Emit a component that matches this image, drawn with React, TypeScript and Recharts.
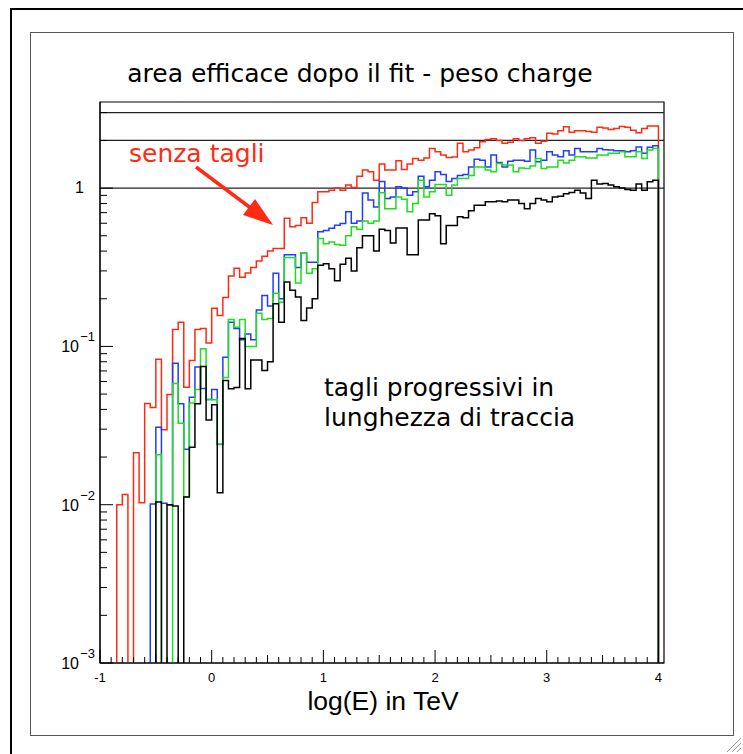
import React from "react";
import { LineChart, Line, XAxis, YAxis, ReferenceLine, ReferenceArea } from "recharts";

// istogramma: 100 bin da log(E) = -1 a 4
const BIN_LOW = -1;
const BIN_WIDTH = 0.05;
const N_BINS = 100;
const Y_MIN = 0.001;
const Y_MAX = 3.5;
const FLOOR = 0.0007; // empty bins fall below the frame (clipped)

const senzaTagli = [
  0, 0, 0, 0.01, 0.0116, 0, 0.0213, 0.0103, 0.0436, 0.0411,
  0.083, 0.0298, 0.0497, 0.128, 0.142, 0.0552, 0.0815, 0.128, 0.13, 0.105,
  0.174, 0.157, 0.204, 0.279, 0.312, 0.273, 0.291, 0.315, 0.347, 0.371,
  0.401, 0.415, 0.416, 0.645, 0.57, 0.58, 0.65, 0.6, 0.81, 0.95,
  0.95, 0.97, 1.0, 0.97, 1.045, 1.01, 1.19, 1.3, 1.27, 1.12,
  1.42, 1.3, 1.3, 1.49, 1.31, 1.42, 1.54, 1.5, 1.55, 1.78,
  1.7, 1.62, 1.56, 1.57, 1.92, 1.7, 1.74, 1.8, 1.96, 2.03,
  2.05, 2.0, 1.92, 1.95, 2.05, 2.0, 2.05, 2.08, 1.92, 1.98,
  2.22, 2.2, 2.3, 2.44, 2.25, 2.3, 2.3, 2.28, 2.25, 2.42,
  2.4, 2.35, 2.38, 2.45, 2.42, 2.32, 2.24, 2.38, 2.47, 2.47,
];

const taglio1 = [
  0, 0, 0, 0, 0, 0, 0, 0, 0, 0.0101,
  0.0308, 0.0102, 0.01, 0.0784, 0.0435, 0.0224, 0.0477, 0.074, 0.0543, 0.0462,
  0.0535, 0.0241, 0.0853, 0.142, 0.13, 0.11, 0.12, 0.11, 0.17, 0.21,
  0.18, 0.29, 0.2, 0.38, 0.38, 0.315, 0.39, 0.34, 0.34, 0.53,
  0.54, 0.558, 0.583, 0.598, 0.71, 0.6, 0.62, 0.93, 0.84, 0.76,
  1.1, 0.86, 0.88, 1.02, 1.0, 0.9, 0.95, 1.19, 1.02, 1.12,
  1.27, 1.22, 1.1, 1.15, 1.2, 1.22, 1.36, 1.52, 1.5, 1.36,
  1.62, 1.45, 1.36, 1.48, 1.5, 1.5, 1.48, 1.74, 1.47, 1.5,
  1.7, 1.62, 1.58, 1.72, 1.62, 1.78, 1.7, 1.7, 1.7, 1.78,
  1.75, 1.74, 1.72, 1.72, 1.7, 1.72, 1.82, 1.66, 1.81, 1.85,
];

const taglio2 = [
  0, 0, 0, 0, 0, 0, 0, 0, 0, 0,
  0.0207, 0, 0, 0.0583, 0.0327, 0.0112, 0.0439, 0.0535, 0.0965, 0.0462,
  0.046, 0.024, 0.0637, 0.148, 0.132, 0.148, 0.1, 0.1, 0.162, 0.148,
  0.15, 0.217, 0.19, 0.364, 0.364, 0.252, 0.39, 0.29, 0.31, 0.48,
  0.446, 0.457, 0.44, 0.436, 0.5, 0.57, 0.55, 0.62, 0.6, 0.62,
  0.934, 0.74, 0.74, 0.88, 0.85, 0.71, 0.8, 1.12, 0.88, 0.95,
  1.055, 1.055, 0.9, 1.045, 1.15, 1.15, 1.2, 1.36, 1.36, 1.3,
  1.27, 1.43, 1.4, 1.4, 1.27, 1.34, 1.33, 1.38, 1.54, 1.33,
  1.36, 1.36, 1.5, 1.44, 1.5, 1.58, 1.58, 1.55, 1.55, 1.62,
  1.62, 1.66, 1.66, 1.7, 1.58, 1.58, 1.7, 1.54, 1.74, 1.78,
];

const taglio3 = [
  0, 0, 0, 0, 0, 0, 0, 0, 0, 0,
  0.0104, 0, 0.01, 0.0098, 0, 0.0112, 0.0231, 0.0435, 0.0747, 0.0343,
  0.0428, 0.0119, 0.0609, 0.054, 0.055, 0.112, 0.054, 0.082, 0.082, 0.0705,
  0.08, 0.186, 0.142, 0.255, 0.226, 0.205, 0.146, 0.175, 0.2, 0.326,
  0.333, 0.31, 0.26, 0.33, 0.36, 0.3, 0.42, 0.5, 0.5, 0.4,
  0.55, 0.54, 0.45, 0.56, 0.56, 0.38, 0.38, 0.63, 0.63, 0.69,
  0.67, 0.446, 0.58, 0.58, 0.66, 0.65, 0.72, 0.78, 0.78, 0.82,
  0.82, 0.83, 0.82, 0.84, 0.84, 0.8, 0.74, 0.8, 0.86, 0.84,
  0.82, 0.88, 0.89, 0.92, 0.94, 0.97, 0.93, 0.86, 1.12, 1.06,
  1.07, 1.045, 1.02, 1.0, 0.98, 0.97, 1.06, 0.97, 1.096, 1.12,
];

const xMajorTicks = [-1, 0, 1, 2, 3, 4];
const yDecades = [0.001, 0.01, 0.1, 1];
const yDecadeLabels = ["\u22123", "\u22122", "\u22121", ""];
const yExtraTicks = [2, 3];
const yLines = [1, 2, 3];

const RED = "#ff2a12";
const BLUE = "#1f3cff";
const GREEN = "#1edc1e";

const floorOf = (v: number) => (v > 0 ? v : FLOOR);

// bin edges; the last edge closes every histogram down to the floor
const data = Array.from({ length: N_BINS + 1 }, (_, i) => ({
  x: Math.round((BIN_LOW + i * BIN_WIDTH) * 100) / 100,
  red: floorOf(senzaTagli[i] ?? 0),
  blue: floorOf(taglio1[i] ?? 0),
  green: floorOf(taglio2[i] ?? 0),
  black: floorOf(taglio3[i] ?? 0),
}));

const xTicks: number[] = [];
for (let k = -10; k <= 40; k++) xTicks.push(k / 10);

const yTicks: number[] = [];
yDecades.slice(0, 3).forEach((d) => {
  for (let m = 1; m <= 9; m++) yTicks.push(Math.round(d * m * 1e6) / 1e6);
});
yTicks.push(1, ...yExtraTicks);

const AXIS_FONT = "'Liberation Sans', Arial, Helvetica, sans-serif";
const TEXT_FONT = "'DejaVu Sans', Verdana, sans-serif";

function XTick(props: any) {
  const { x, y, payload } = props;
  const v = payload.value as number;
  const major = xMajorTicks.some((t) => Math.abs(t - v) < 1e-6);
  const half = Math.abs(v * 2 - Math.round(v * 2)) < 1e-6;
  const len = major ? 13 : half ? 8 : 6;
  return (
    <g>
      <line x1={x} y1={y} x2={x} y2={y - len} stroke="#000" strokeWidth={1} />
      {major && (
        <text x={x} y={y + 19} textAnchor="middle" fontSize={13} fontFamily={AXIS_FONT} fill="#000">
          {v}
        </text>
      )}
    </g>
  );
}

function YTick(props: any) {
  const { x, y, payload } = props;
  const v = payload.value as number;
  const di = yDecades.findIndex((d) => Math.abs(d - v) / d < 1e-6);
  const len = di >= 0 ? 13 : 7;
  let label: React.ReactNode = null;
  if (di === 3) {
    label = (
      <text x={x - 16} y={y + 5} textAnchor="end" fontSize={16} fontFamily={AXIS_FONT} fill="#000">
        1
      </text>
    );
  } else if (di >= 0) {
    label = (
      <g>
        <text x={x - 21} y={y + 6} textAnchor="end" fontSize={16} fontFamily={AXIS_FONT} fill="#000">
          10
        </text>
        <text x={x - 5} y={y - 5} textAnchor="end" fontSize={13} fontFamily={AXIS_FONT} fill="#000">
          {yDecadeLabels[di]}
        </text>
      </g>
    );
  }
  return (
    <g>
      <line x1={x} y1={y} x2={x + len} y2={y} stroke="#000" strokeWidth={1} />
      {label}
    </g>
  );
}

export default function App() {
  return (
    <div style={{ position: "absolute", left: 0, top: 0, width: 743, height: 754, overflow: "hidden", background: "#fff" }}>
      <div style={{ position: "absolute", left: 10, top: 8, width: 740, height: 760, borderLeft: "2px solid #000", borderTop: "2px solid #000" }} />
      <div style={{ position: "absolute", left: 30, top: 32, width: 704, height: 704, border: "1px solid #555", boxSizing: "border-box" }} />
      <div style={{ position: "absolute", left: 30, top: 32 }}>
        <LineChart width={703} height={703} data={data} margin={{ top: 70, right: 69, bottom: 0, left: 0 }}>
          <XAxis
            dataKey="x"
            type="number"
            domain={[-1, 4.05]}
            ticks={xTicks}
            interval={0}
            allowDataOverflow
            height={72}
            tickSize={0}
            tickMargin={0}
            tickLine={false}
            axisLine={{ stroke: "#000" }}
            tick={XTick}
          />
          <YAxis
            type="number"
            scale="log"
            domain={[Y_MIN, Y_MAX]}
            ticks={yTicks}
            interval={0}
            allowDataOverflow
            width={70}
            tickSize={0}
            tickMargin={0}
            tickLine={false}
            axisLine={{ stroke: "#000" }}
            tick={YTick}
          />
          <ReferenceArea x1={-1} x2={4.05} y1={Y_MIN} y2={Y_MAX} fill="none" stroke="#000" strokeWidth={1.2} />
          {yLines.map((v) => (
            <ReferenceLine key={v} y={v} stroke="#222" strokeWidth={1.3} />
          ))}
          <Line type="stepAfter" dataKey="red" stroke={RED} strokeWidth={1.5} dot={false} isAnimationActive={false} />
          <Line type="stepAfter" dataKey="blue" stroke={BLUE} strokeWidth={1.5} dot={false} isAnimationActive={false} />
          <Line type="stepAfter" dataKey="green" stroke={GREEN} strokeWidth={1.5} dot={false} isAnimationActive={false} />
          <Line type="stepAfter" dataKey="black" stroke="#000" strokeWidth={1.5} dot={false} isAnimationActive={false} />
        </LineChart>
      </div>
      <svg width={743} height={754} style={{ position: "absolute", left: 0, top: 0, pointerEvents: "none" }}>
        <text x={360} y={82} textAnchor="middle" fontSize={25} fontFamily={TEXT_FONT} fill="#000">
          area efficace dopo il fit - peso charge
        </text>
        <text x={129} y={162} fontSize={25} fontFamily={TEXT_FONT} fill={RED}>
          senza tagli
        </text>
        <line x1={196} y1={167} x2={252} y2={209} stroke={RED} strokeWidth={3.5} />
        <polygon points="273,225 243,215 255,199" fill={RED} />
        <text x={324} y={396} fontSize={25} fontFamily={TEXT_FONT} fill="#000">
          tagli progressivi in
        </text>
        <text x={324} y={426} fontSize={25} fontFamily={TEXT_FONT} fill="#000">
          lunghezza di traccia
        </text>
        <text x={383} y={710} textAnchor="middle" fontSize={26.5} fontFamily={AXIS_FONT} fill="#000">
          log(E) in TeV
        </text>
        <g stroke="#999" strokeWidth={1}>
          <line x1={741} y1={738} x2={727} y2={752} />
          <line x1={741} y1={743} x2={732} y2={752} />
          <line x1={741} y1={748} x2={737} y2={752} />
        </g>
      </svg>
    </div>
  );
}
